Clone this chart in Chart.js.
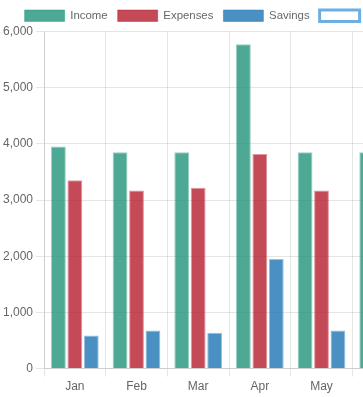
<!DOCTYPE html>
<html>
<head>
<meta charset="utf-8">
<script src="https://cdn.jsdelivr.net/npm/chart.js@4/dist/chart.umd.min.js"></script>
<style>
html,body{margin:0;padding:0;background:#fff;overflow:hidden;}
#wrap{width:363px;height:397px;overflow:hidden;position:relative;}
canvas{display:block;}
</style>
</head>
<body>
<div id="wrap"><canvas id="c" width="414" height="397"></canvas></div>
<script>
const categories = ["Jan", "Feb", "Mar", "Apr", "May", "Jun"];
const income = [3950, 3850, 3850, 5770, 3850, 3850];
const expenses = [3350, 3170, 3220, 3820, 3170, 3170];
const savings = [590, 680, 640, 1950, 680, 680];
const goal = [];
const yTicks = [0, 1000, 2000, 3000, 4000, 5000, 6000];

new Chart(document.getElementById('c'), {
  type: 'bar',
  data: {
    labels: categories,
    datasets: [
      {label: 'Income', data: income, backgroundColor: 'rgba(34,148,121,0.8)', borderColor: 'rgba(34,148,121,0.45)', borderWidth: 1},
      {label: 'Expenses', data: expenses, backgroundColor: 'rgba(181,29,45,0.8)', borderColor: 'rgba(181,29,45,0.45)', borderWidth: 1},
      {label: 'Savings', data: savings, backgroundColor: 'rgba(29,116,179,0.8)', borderColor: 'rgba(29,116,179,0.45)', borderWidth: 1},
      {type: 'line', label: 'Goal', data: goal, backgroundColor: '#ffffff', borderColor: 'rgba(110,175,225,1)', borderWidth: 3}
    ]
  },
  options: {
    responsive: false,
    animation: false,
    plugins: {
      legend: {labels: {color: '#666', font: {size: 11.4}}},
      tooltip: {enabled: false}
    },
    scales: {
      x: {grid: {color: 'rgba(0,0,0,0.1)'}, ticks: {color: '#666'}},
      y: {min: 0, max: 6000, beginAtZero: true,
          afterBuildTicks: (ax) => { ax.ticks = yTicks.map(v => ({value: v})); },
          ticks: {color: '#666', callback: v => v.toLocaleString('en-US')},
          grid: {color: 'rgba(0,0,0,0.1)'}}
    }
  }
});
</script>
</body>
</html>
